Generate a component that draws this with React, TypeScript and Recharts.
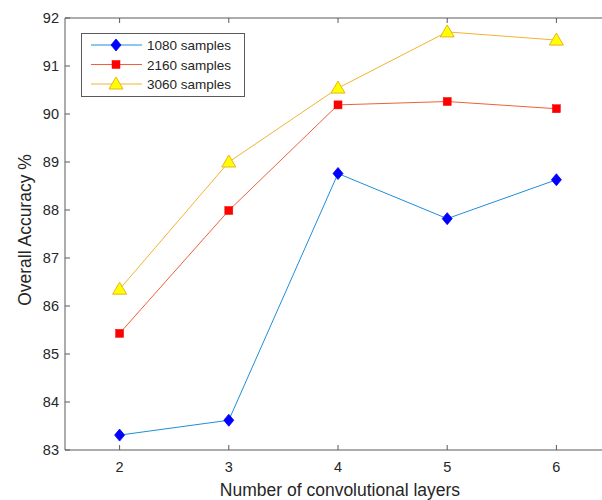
import React from "react";
import { LineChart, Line, XAxis, YAxis } from "recharts";

const layers = [2, 3, 4, 5, 6];
const s1080 = [83.31, 83.62, 88.76, 87.82, 88.63];
const s2160 = [85.43, 87.99, 90.19, 90.26, 90.11];
const s3060 = [86.35, 89.0, 90.54, 91.71, 91.54];
const yTicks = [83, 84, 85, 86, 87, 88, 89, 90, 91, 92];
const seriesNames = ["1080 samples", "2160 samples", "3060 samples"];

const data = layers.map((l, i) => ({ layers: l, a: s1080[i], b: s2160[i], c: s3060[i] }));

const FONT = "'Liberation Sans', Arial, Helvetica, sans-serif";
const AXIS = "#5a5a5a";
const C1 = "#1f8fd8";
const C2 = "#f0603a";
const C3 = "#f2b430";

function Marker({ kind, cx, cy }: { kind: string; cx: number; cy: number }) {
  if (kind === "d")
    return <polygon points={`${cx},${cy - 6} ${cx + 5},${cy} ${cx},${cy + 6} ${cx - 5},${cy}`} fill="#0000ff" stroke="#0000ff" strokeWidth={0.8} />;
  if (kind === "s")
    return <rect x={cx - 4} y={cy - 4} width={8} height={8} fill="#ff0000" stroke="#ff0000" strokeWidth={0.5} />;
  return <polygon points={`${cx},${cy - 7} ${cx + 7},${cy + 5} ${cx - 7},${cy + 5}`} fill="#ffff00" stroke="#EDB120" strokeWidth={1} />;
}

const dot = (kind: string) => (p: any) => <Marker key={p.index} kind={kind} cx={p.cx} cy={p.cy} />;

const BottomTick = (p: any) => (
  <g>
    <line x1={p.x} y1={p.y} x2={p.x} y2={p.y - 5} stroke={AXIS} />
    <text x={p.x} y={p.y + 22} textAnchor="middle" fontSize={14.5} fill="#262626" fontFamily={FONT}>
      {p.payload.value}
    </text>
  </g>
);
const TopTick = (p: any) => <line x1={p.x} y1={p.y} x2={p.x} y2={p.y + 5} stroke={AXIS} />;
const LeftTick = (p: any) => (
  <g>
    <line x1={p.x} y1={p.y} x2={p.x + 5} y2={p.y} stroke={AXIS} />
    <text x={p.x - 6} y={p.y + 5} textAnchor="end" fontSize={14.5} fill="#262626" fontFamily={FONT}>
      {p.payload.value}
    </text>
  </g>
);

const LegendBox = () => {
  const rows = [
    { name: seriesNames[0], color: C1, kind: "d" },
    { name: seriesNames[1], color: C2, kind: "s" },
    { name: seriesNames[2], color: C3, kind: "t" },
  ];
  return (
    <svg width={164} height={64} style={{ display: "block" }}>
      <rect x={0.5} y={0.5} width={163} height={63} fill="#fff" stroke={AXIS} />
      {rows.map((r, i) => {
        const y = 12 + i * 19.5;
        return (
          <g key={r.name}>
            <line x1={10} y1={y} x2={61} y2={y} stroke={r.color} strokeWidth={1} />
            <Marker kind={r.kind} cx={35} cy={y} />
            <text x={66} y={y + 5} fontSize={13.5} fill="#262626" fontFamily={FONT}>
              {r.name}
            </text>
          </g>
        );
      })}
    </svg>
  );
};

export default function App() {
  return (
    <div style={{ position: "absolute", left: 0, top: 0, width: 602, height: 500, overflow: "hidden", background: "#fff" }}>
      <LineChart width={620} height={500} data={data} margin={{ top: 17, right: 9, bottom: 0, left: 0 }}>
        <XAxis
          dataKey="layers"
          type="number"
          domain={[1.5, 6.5]}
          ticks={layers}
          allowDataOverflow
          height={50}
          stroke={AXIS}
          tickSize={0}
          tickMargin={0}
          tick={BottomTick}
          label={{
            content: () => (
              <text x={340} y={496} textAnchor="middle" fontSize={17.5} fill="#262626" fontFamily={FONT}>
                Number of convolutional layers
              </text>
            ),
          }}
        />
        <XAxis
          xAxisId="top"
          orientation="top"
          dataKey="layers"
          type="number"
          domain={[1.5, 6.5]}
          ticks={layers}
          allowDataOverflow
          height={1}
          stroke={AXIS}
          tickSize={0}
          tickMargin={0}
          tick={TopTick}
        />
        <YAxis
          type="number"
          domain={[83, 92]}
          ticks={yTicks}
          allowDataOverflow
          width={65}
          stroke={AXIS}
          tickSize={0}
          tickMargin={0}
          tick={LeftTick}
          label={{
            content: () => (
              <text x={31} y={230} transform="rotate(-90,31,230)" textAnchor="middle" fontSize={17.5} fill="#262626" fontFamily={FONT}>
                Overall Accuracy %
              </text>
            ),
          }}
        />
        <Line dataKey="a" name={seriesNames[0]} stroke={C1} strokeWidth={1} dot={dot("d")} isAnimationActive={false} />
        <Line dataKey="b" name={seriesNames[1]} stroke={C2} strokeWidth={1} dot={dot("s")} isAnimationActive={false} />
        <Line dataKey="c" name={seriesNames[2]} stroke={C3} strokeWidth={1} dot={dot("t")} isAnimationActive={false} />
      </LineChart>
      <div style={{ position: "absolute", left: 81, top: 33 }}>
        <LegendBox />
      </div>
    </div>
  );
}
